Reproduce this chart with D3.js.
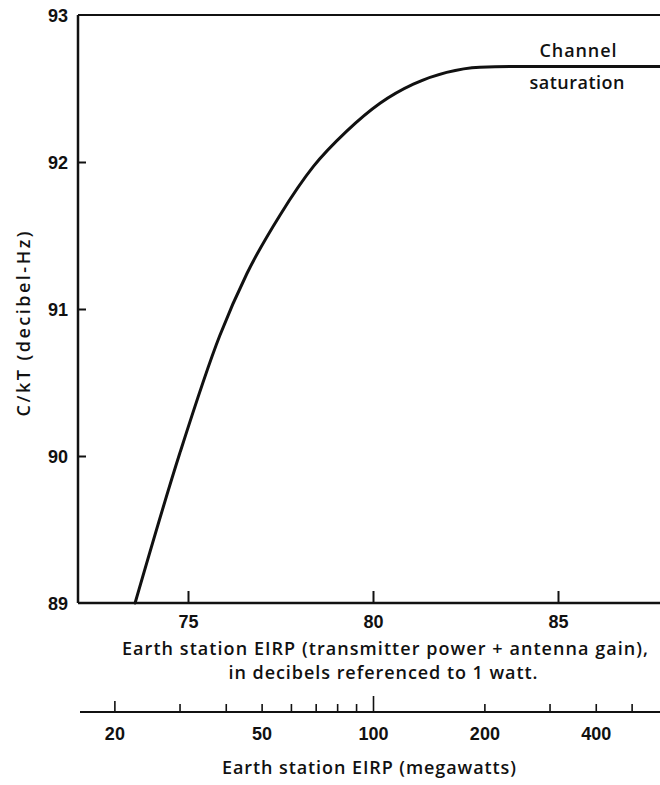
<!DOCTYPE html>
<html>
<head>
<meta charset="utf-8">
<script src="https://cdn.jsdelivr.net/npm/d3@7"></script>
<style>
  html, body { margin: 0; padding: 0; background: #fff; }
  svg { display: block; }
  .num { font-family: "Liberation Sans", Arial, sans-serif; font-weight: bold; font-size: 18px; fill: #111; }
  .lbl { font-family: "Open Sans", "Liberation Sans", sans-serif; font-weight: 600; font-size: 18px; fill: #111; }
</style>
</head>
<body>
<svg id="chart" width="660" height="785"></svg>
<script>
// ---- data ----
const eirpDbw = [73.57, 74.78, 75.86, 76.59, 77.49, 78.39, 79.29, 80.19, 81.09, 81.99, 82.89, 83.79, 87.76];
const ckt     = [89.00, 90.02, 90.82, 91.24, 91.64, 91.97, 92.21, 92.40, 92.53, 92.61, 92.645, 92.65, 92.65];
const yTicks = [89, 90, 91, 92, 93];
const xTicks = [75, 80, 85];
const mwTicks = [20, 30, 40, 50, 60, 70, 80, 90, 100, 200, 300, 400, 500];
const mwLabels = [20, 50, 100, 200, 400];
const yTitle = "C/kT (decibel-Hz)";
const xTitle1 = "Earth station EIRP (transmitter power + antenna gain),";
const xTitle2 = "in decibels referenced to 1 watt.";
const mwTitle = "Earth station EIRP (megawatts)";
const noteLines = ["Channel", "saturation"];

// ---- scales ----
const x = d3.scaleLinear().domain([75, 85]).range([188, 558]);
const y = d3.scaleLinear().domain([89, 93]).range([603, 15]);
const xLeft = 78, xRight = 660;
const dbToMw = d => Math.pow(10, d / 10) / 1e6;
const xMw = d3.scaleLog()
  .domain([dbToMw(x.invert(xLeft)), dbToMw(x.invert(xRight))])
  .range([xLeft, xRight]);

const svg = d3.select("#chart");
const ink = "#111";

// frame lines
svg.append("line").attr("x1", xLeft).attr("x2", xLeft).attr("y1", y(93)).attr("y2", y(89))
  .attr("stroke", ink).attr("stroke-width", 2.5);
svg.append("line").attr("x1", xLeft).attr("x2", xRight).attr("y1", y(93)).attr("y2", y(93))
  .attr("stroke", ink).attr("stroke-width", 2.2);

// Y axis (ticks inward)
const yAxis = svg.append("g").attr("transform", `translate(${xLeft},0)`)
  .call(d3.axisLeft(y).tickValues(yTicks).tickSize(-8).tickPadding(10).tickFormat(d3.format("d")));
yAxis.select(".domain").remove();
yAxis.selectAll(".tick line").attr("stroke", ink).attr("stroke-width", 2);
yAxis.selectAll(".tick text").attr("class", "num").attr("font-size", null).attr("font-family", null).attr("fill", null).attr("dy", "0.35em");
yAxis.selectAll(".tick").filter(d => d === 93 || d === 89).select("line").remove();

// X axis (dB)
const xAxis = svg.append("g").attr("transform", `translate(0,${y(89)})`)
  .call(d3.axisBottom(x).tickValues(xTicks).tickSize(-12).tickPadding(12));
xAxis.select(".domain").remove();
svg.append("line").attr("x1", xLeft).attr("x2", xRight).attr("y1", y(89)).attr("y2", y(89))
  .attr("stroke", ink).attr("stroke-width", 2.5);
xAxis.selectAll(".tick line").attr("stroke", ink).attr("stroke-width", 2);
xAxis.selectAll(".tick text").attr("class", "num").attr("font-size", null).attr("font-family", null).attr("fill", null);

// MW axis
const mwY = 712;
const mwAxis = svg.append("g").attr("transform", `translate(0,${mwY})`)
  .call(d3.axisBottom(xMw).tickValues(mwTicks).tickSize(-8).tickPadding(15)
    .tickFormat(d => mwLabels.includes(d) ? d : ""));
mwAxis.select(".domain").remove();
svg.append("line").attr("x1", 80).attr("x2", xRight).attr("y1", mwY).attr("y2", mwY)
  .attr("stroke", ink).attr("stroke-width", 2.2);
mwAxis.selectAll(".tick line").attr("stroke", ink).attr("stroke-width", 1.6)
  .attr("y2", d => d === 100 ? -16 : (d === 20 ? -11 : -8));
mwAxis.selectAll(".tick text").attr("class", "num").attr("font-size", null).attr("font-family", null).attr("fill", null);

// curve
const pts = eirpDbw.map((d, i) => [d, ckt[i]]);
const line = d3.line().x(d => x(d[0])).y(d => y(d[1])).curve(d3.curveMonotoneX);
svg.append("path").datum(pts).attr("d", line)
  .attr("fill", "none").attr("stroke", ink).attr("stroke-width", 3)
  .attr("stroke-linecap", "round");

// annotations
svg.append("text").attr("class", "lbl").attr("x", 578).attr("y", 57).attr("text-anchor", "middle")
  .attr("textLength", 77).attr("lengthAdjust", "spacing").text(noteLines[0]);
svg.append("text").attr("class", "lbl").attr("x", 577).attr("y", 89).attr("text-anchor", "middle")
  .attr("textLength", 95).attr("lengthAdjust", "spacing").text(noteLines[1]);

// titles
svg.append("text").attr("class", "lbl")
  .attr("transform", "translate(30,324) rotate(-90)").attr("text-anchor", "middle")
  .attr("textLength", 185).attr("lengthAdjust", "spacing").text(yTitle);
svg.append("text").attr("class", "lbl").attr("x", 385).attr("y", 655).attr("text-anchor", "middle")
  .attr("textLength", 526).attr("lengthAdjust", "spacing").text(xTitle1);
svg.append("text").attr("class", "lbl").attr("x", 383).attr("y", 679).attr("text-anchor", "middle")
  .attr("textLength", 309).attr("lengthAdjust", "spacing").text(xTitle2);
svg.append("text").attr("class", "lbl").attr("x", 369).attr("y", 774).attr("text-anchor", "middle")
  .attr("textLength", 294).attr("lengthAdjust", "spacing").text(mwTitle);
</script>
</body>
</html>
